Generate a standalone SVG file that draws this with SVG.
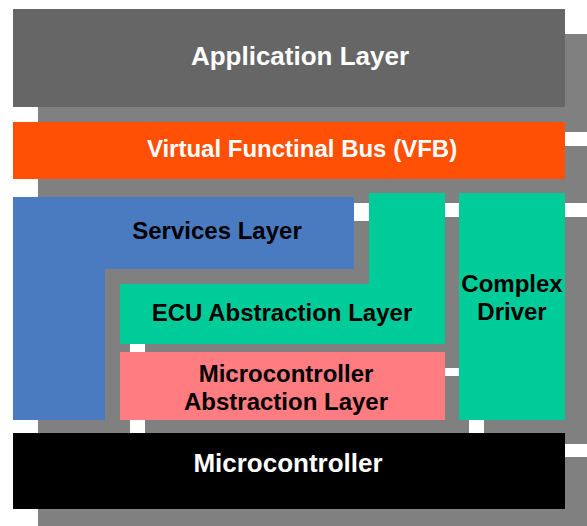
<svg xmlns="http://www.w3.org/2000/svg" xmlns:xlink="http://www.w3.org/1999/xlink" width="587" height="526" viewBox="0 0 587 526">
<style>
.shadow{fill:#808080}
.t{font-family:"Liberation Sans",Arial,sans-serif;font-weight:bold;text-anchor:middle}
.w{fill:#ffffff}
.b{fill:#000000}
</style>
<rect x="0" y="0" width="587" height="526" fill="#ffffff"/>
<g id="application-layer">
<rect class="shadow" x="38" y="34" width="552" height="98"/>
<rect x="13" y="9" width="552" height="98" fill="#666666"/>
<text class="t w" x="300" y="65" font-size="26">Application Layer</text>
</g>
<g id="vfb">
<rect class="shadow" x="38" y="146" width="552" height="57"/>
<rect x="13" y="122" width="552" height="57" fill="#FF5005"/>
<text class="t w" x="302" y="157" font-size="24">Virtual Functinal Bus (VFB)</text>
</g>
<g id="services-layer">
<polygon class="shadow" points="38,221 379,221 379,293 130,293 130,444 38,444"/>
<polygon points="13,197 354,197 354,269 105,269 105,420 13,420" fill="#4A7ABF"/>
<text class="t b" x="217" y="239" font-size="24">Services Layer</text>
</g>
<g id="ecu-abstraction-layer">
<polygon class="shadow" points="394,217 470,217 470,368 145,368 145,308 394,308"/>
<polygon points="369,193 445,193 445,344 120,344 120,284 369,284" fill="#00CC99"/>
<text class="t b" x="282" y="321" font-size="24">ECU Abstraction Layer</text>
</g>
<g id="microcontroller-abstraction-layer">
<rect class="shadow" x="145" y="376" width="324" height="68"/>
<rect x="120" y="352" width="325" height="68" fill="#FF7C80"/>
<text class="t b" x="286" y="382" font-size="24">Microcontroller</text>
<text class="t b" x="286" y="410" font-size="24">Abstraction Layer</text>
</g>
<g id="complex-driver">
<rect class="shadow" x="484" y="217" width="106" height="227"/>
<rect x="459" y="193" width="106" height="227" fill="#00CC99"/>
<text class="t b" x="512" y="292" font-size="24">Complex</text>
<text class="t b" x="512" y="320" font-size="24">Driver</text>
</g>
<g id="microcontroller">
<rect class="shadow" x="38" y="457" width="552" height="76"/>
<rect x="13" y="433" width="552" height="76" fill="#000000"/>
<text class="t w" x="288" y="472" font-size="26">Microcontroller</text>
</g>
<g id="connectors"/>
</svg>
